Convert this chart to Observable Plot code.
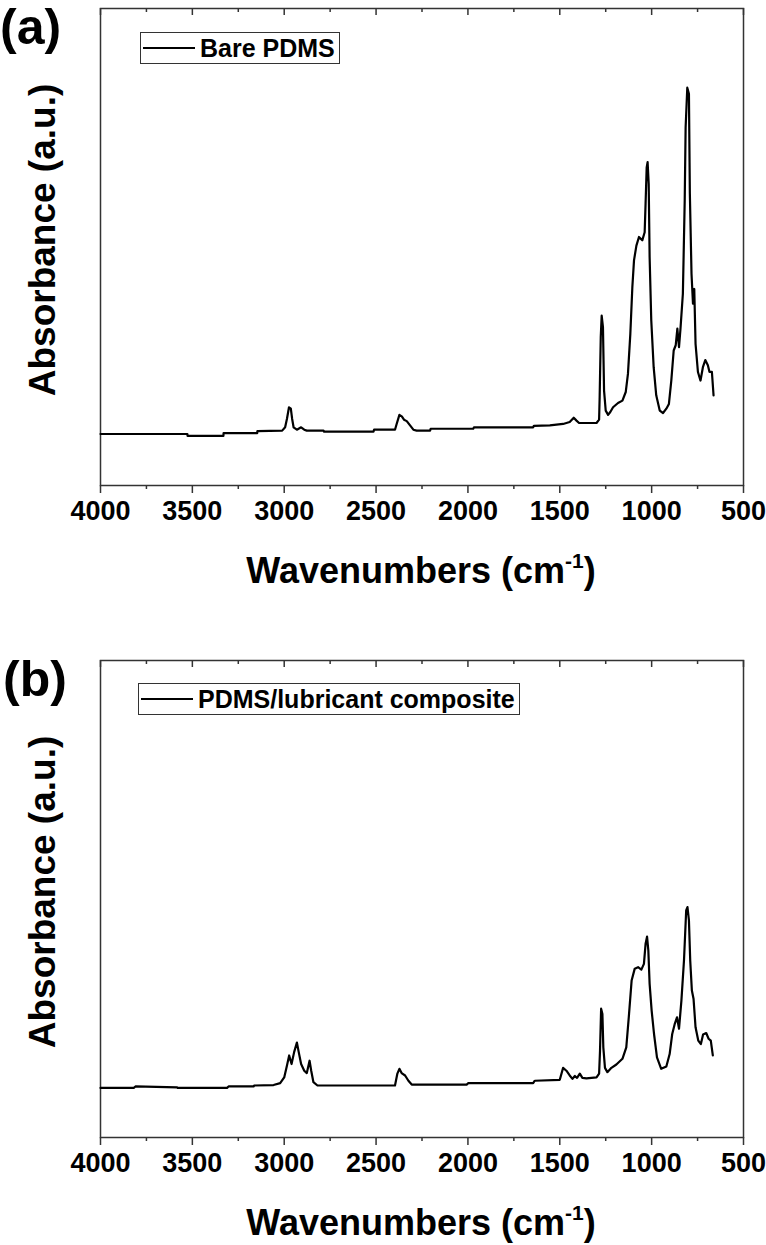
<!DOCTYPE html>
<html><head><meta charset="utf-8">
<script src="https://cdn.jsdelivr.net/npm/d3@7"></script>
<script src="https://cdn.jsdelivr.net/npm/@observablehq/plot@0.6"></script>
<style>
body{margin:0;background:#fff;}
#wrap{position:relative;width:766px;height:1245px;overflow:hidden;font-family:"Liberation Sans",Arial,sans-serif;color:#000;}
.panel{position:absolute;left:0;width:766px;}
.tag{position:absolute;font-weight:bold;font-size:50px;line-height:1;white-space:nowrap;}
.xt{position:absolute;font-weight:bold;font-size:36px;line-height:1;white-space:nowrap;transform:translateX(-50%);}
.xt sup{font-size:21px;vertical-align:0;position:relative;top:-15px;}
.yt{position:absolute;font-weight:bold;font-size:37px;line-height:1;white-space:nowrap;transform:translate(-50%,-50%) rotate(-90deg);}
.legend{position:absolute;height:30px;border:1.5px solid #333;background:#fff;display:flex;align-items:center;font-weight:bold;font-size:25px;padding-right:4px;}
.legend .sw{width:52px;border-top:2px solid #000;margin:0 5px 0 2px;}
</style>
</head><body>
<div id="wrap"></div>
<script>
const majorTicks = [4000, 3500, 3000, 2500, 2000, 1500, 1000, 500];
const minorTicks = [3750, 3250, 2750, 2250, 1750, 1250, 750];
const seriesNames = ["Bare PDMS", "PDMS/lubricant composite"];
const panelTags = ["(a)", "(b)"];

// [wavenumber (cm-1), absorbance (a.u.)]
const barePDMS = [
 [4000,0.108],[3527,0.108],[3526,0.104],[3331,0.104],[3330,0.110],[3147,0.110],[3146,0.114],[3011,0.115],
 [2995,0.122],[2985,0.140],[2974,0.164],[2964,0.161],[2957,0.140],[2949,0.122],[2931,0.117],[2908,0.122],
 [2891,0.117],[2877,0.115],[2786,0.115],[2783,0.113],[2514,0.113],[2511,0.117],[2397,0.117],[2388,0.129],
 [2373,0.148],[2360,0.145],[2348,0.138],[2333,0.135],[2315,0.126],[2297,0.117],[2279,0.115],[2206,0.115],
 [2203,0.119],[1971,0.119],[1967,0.122],[1645,0.122],[1641,0.125],[1554,0.126],[1482,0.129],[1446,0.133],
 [1424,0.142],[1409,0.136],[1395,0.131],[1300,0.131],[1286,0.138],[1283,0.185],[1277,0.311],[1272,0.356],
 [1265,0.332],[1259,0.199],[1250,0.157],[1237,0.148],[1225,0.154],[1210,0.164],[1183,0.173],[1159,0.178],
 [1141,0.196],[1129,0.234],[1116,0.318],[1105,0.416],[1096,0.472],[1083,0.503],[1069,0.521],[1051,0.514],
 [1038,0.531],[1033,0.591],[1027,0.667],[1022,0.678],[1016,0.632],[1011,0.479],[1002,0.346],[989,0.248],
 [975,0.189],[956,0.157],[938,0.152],[920,0.161],[906,0.171],[893,0.220],[880,0.283],[869,0.294],
 [860,0.329],[851,0.290],[843,0.329],[830,0.402],[820,0.597],[815,0.751],[806,0.834],[797,0.821],
 [792,0.612],[783,0.444],[775,0.381],[768,0.412],[761,0.297],[748,0.238],[734,0.220],[721,0.248],
 [708,0.263],[694,0.252],[685,0.238],[672,0.238],[663,0.189]
];
const lubricantComposite = [
 [4000,0.104],[3819,0.104],[3810,0.107],[3583,0.105],[3580,0.104],[3311,0.104],[3303,0.107],[3167,0.107],
 [3163,0.109],[3058,0.110],[3022,0.114],[3000,0.126],[2985,0.151],[2973,0.172],[2960,0.154],[2946,0.179],
 [2931,0.199],[2921,0.179],[2908,0.154],[2891,0.140],[2877,0.135],[2862,0.161],[2853,0.140],[2841,0.116],
 [2819,0.109],[2397,0.109],[2384,0.134],[2373,0.144],[2361,0.135],[2342,0.130],[2324,0.119],[2306,0.111],
 [2007,0.111],[1998,0.114],[1645,0.114],[1636,0.119],[1500,0.121],[1482,0.146],[1464,0.140],[1446,0.130],
 [1431,0.123],[1418,0.129],[1406,0.125],[1391,0.134],[1377,0.125],[1355,0.124],[1300,0.126],[1286,0.134],
 [1281,0.182],[1275,0.270],[1268,0.259],[1263,0.189],[1254,0.146],[1241,0.137],[1219,0.146],[1192,0.153],
 [1159,0.165],[1138,0.189],[1123,0.259],[1109,0.329],[1092,0.354],[1074,0.357],[1056,0.352],[1042,0.364],
 [1033,0.406],[1025,0.421],[1018,0.392],[1011,0.322],[1000,0.266],[987,0.217],[971,0.168],[948,0.144],
 [920,0.149],[902,0.175],[888,0.217],[875,0.237],[862,0.252],[851,0.228],[838,0.287],[824,0.371],
 [812,0.476],[805,0.483],[797,0.455],[790,0.371],[781,0.308],[772,0.291],[761,0.231],[746,0.203],
 [732,0.196],[720,0.216],[703,0.219],[690,0.207],[678,0.203],[667,0.172]
];

const frameColor = "#333";
const plotTop = 8, plotH = 477;
function makePanel(data, h) {
  const rows = data.map(([w, a]) => ({w, a}));
  const tickStyle = {label: null, stroke: frameColor, strokeWidth: 1.5};
  return Plot.plot({
    width: 766, height: h,
    marginTop: plotTop, marginBottom: h - plotTop - plotH, marginLeft: 100, marginRight: 23,
    style: {fontFamily: '"Liberation Sans", Arial, sans-serif', fontSize: "27px", fontWeight: "bold", color: "#000", background: "#fff", overflow: "visible"},
    x: {domain: [4000, 500]},
    y: {domain: [0, 1], axis: null},
    marks: [
      Plot.axisX(majorTicks, {anchor: "bottom", tickSize: 8, tickPadding: 7, tickFormat: d => String(d), ...tickStyle}),
      Plot.axisX(minorTicks, {anchor: "bottom", tickSize: 4, tickFormat: () => "", ...tickStyle}),
      // inward ticks along the top edge of the frame
      Plot.tickX(majorTicks, {x: d => d, insetBottom: plotH - 7, stroke: frameColor, strokeWidth: 1.5}),
      Plot.tickX(minorTicks, {x: d => d, insetBottom: plotH - 4, stroke: frameColor, strokeWidth: 1.5}),
      Plot.frame({stroke: frameColor, strokeWidth: 1.5}),
      Plot.line(rows, {x: "w", y: "a", stroke: "#000", strokeWidth: 2.2})
    ]
  });
}

const wrap = document.getElementById("wrap");
const layout = [
  {top: 0, h: 652, data: barePDMS},
  {top: 652, h: 593, data: lubricantComposite}
];
layout.forEach((L, i) => {
  const p = document.createElement("div");
  p.className = "panel";
  p.style.top = L.top + "px";
  p.appendChild(makePanel(L.data, L.h));
  wrap.appendChild(p);

  const tag = document.createElement("div");
  tag.className = "tag";
  tag.textContent = panelTags[i];
  tag.style.left = (i === 0 ? 0 : 3) + "px";
  tag.style.top = (L.top + 2) + "px";
  wrap.appendChild(tag);

  const xt = document.createElement("div");
  xt.className = "xt";
  xt.innerHTML = "Wavenumbers (cm<sup>-1</sup>)";
  xt.style.left = "421px";
  xt.style.top = (L.top + 553) + "px";
  wrap.appendChild(xt);

  const yt = document.createElement("div");
  yt.className = "yt";
  yt.textContent = "Absorbance (a.u.)";
  yt.style.left = "42px";
  yt.style.top = (L.top + 240) + "px";
  wrap.appendChild(yt);

  const lg = document.createElement("div");
  lg.className = "legend";
  lg.style.left = (i === 0 ? 140 : 138) + "px";
  lg.style.top = (L.top + 32 - (i === 0 ? 0 : 1)) + "px";
  const sw = document.createElement("span"); sw.className = "sw";
  const tx = document.createElement("span"); tx.textContent = seriesNames[i];
  lg.appendChild(sw); lg.appendChild(tx);
  wrap.appendChild(lg);
});
</script>
</body></html>
